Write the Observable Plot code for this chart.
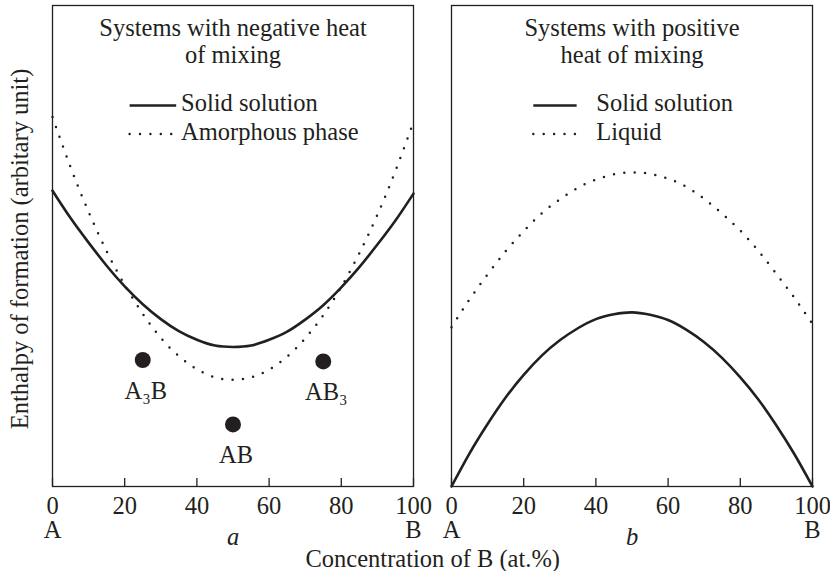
<!DOCTYPE html>
<html>
<head>
<meta charset="utf-8">
<script src="https://cdn.jsdelivr.net/npm/d3@7"></script>
<script src="https://cdn.jsdelivr.net/npm/@observablehq/plot@0.6"></script>
<style>
  body { margin: 0; background: #fff; }
</style>
</head>
<body>
<div id="chart"></div>
<script>
// Panels: (a) negative heat of mixing, (b) positive heat of mixing
const panels = ["a", "b"];
const panelTitles = ["Systems with negative heat\nof mixing", "Systems with positive\nheat of mixing"];

// Concentration of B (at.%) at which the curves are sampled
const concentration = [0, 5, 10, 15, 20, 25, 30, 35, 40, 45, 50, 55, 60, 65, 70, 75, 80, 85, 90, 95, 100];

// Enthalpy of formation (arbitrary units), panel a
const negSolid     = [61.5, 55.8, 50.7, 45.9, 41.6, 37.9, 34.8, 32.3, 30.5, 29.3, 29.0, 29.3, 30.5, 32.2, 34.7, 37.7, 41.4, 45.6, 50.3, 55.3, 60.9];
const negAmorphous = [76.8, 66.4, 57.1, 48.9, 41.9, 35.9, 30.9, 27.1, 24.4, 22.7, 22.2, 22.7, 24.3, 27.0, 30.8, 35.6, 41.5, 48.5, 56.5, 65.6, 75.8];

// Enthalpy of formation (arbitrary units), panel b
const posSolid  = [0, 6.9, 13.0, 18.5, 23.2, 27.2, 30.4, 32.9, 34.8, 35.8, 36.2, 35.7, 34.6, 32.6, 30.0, 26.7, 22.7, 18.1, 12.7, 6.7, 0];
const posLiquid = [33.1, 38.9, 44.1, 48.9, 53.1, 56.8, 59.7, 62.1, 63.8, 64.9, 65.3, 65.0, 64.0, 62.3, 59.8, 56.7, 53.2, 49.0, 44.2, 39.2, 33.8];

// Intermetallic compounds in panel a
const compounds = ["A₃B", "AB", "AB₃"];
const compoundX = [25, 50, 75];
const compoundY = [26.3, 12.9, 26.0];

// Axis ticks and end-member labels
const xTicks = [0, 20, 40, 60, 80, 100];
const endMembers = ["A", "B"];
const endMemberX = [0, 100];

// Legend entries per panel
const legendSolid = ["Solid solution", "Solid solution"];
const legendDotted = ["Amorphous phase", "Liquid"];

const xLabel = "Concentration of B (at.%)";
const yLabel = "Enthalpy of formation (arbitary unit)";

// ---- layout ----
const W = 830, H = 571;
const M = {top: 5, right: 18, bottom: 85, left: 51.5};
const plotH = H - M.top - M.bottom;
const ink = "#231f20";
const fs = 24.5;
// legend placement (in x/y data units of each panel)
const legendPlace = {
  a: {x1: 21.5, x2: 34.4, xd2: 33.4, tx: 35.6, y1: 79.2, y2: 73.3},
  b: {x1: 22.8, x2: 34.8, xd2: 34.4, tx: 40.1, y1: 79.2, y2: 73.3}
};

// ---- tables ----
const curves = [];
concentration.forEach((c, i) => {
  curves.push({panel: "a", kind: "solid", x: c, y: negSolid[i]});
  curves.push({panel: "a", kind: "dotted", x: c, y: negAmorphous[i]});
  curves.push({panel: "b", kind: "solid", x: c, y: posSolid[i]});
  curves.push({panel: "b", kind: "dotted", x: c, y: posLiquid[i]});
});
const solidRows = curves.filter(d => d.kind === "solid");
const dottedRows = curves.filter(d => d.kind === "dotted");

const compoundRows = compounds.map((name, i) => ({panel: "a", name, x: compoundX[i], y: compoundY[i]}));
const endRows = endMembers.map((t, i) => ({label: t, x: endMemberX[i]}));
const titleRows = panels.map((p, i) => ({panel: p, text: panelTitles[i]}));
const legendRows = panels.flatMap((p, i) => {
  const L = legendPlace[p];
  return [
    {panel: p, kind: "solid", text: legendSolid[i], x1: L.x1, x2: L.x2, tx: L.tx, y: L.y1},
    {panel: p, kind: "dotted", text: legendDotted[i], x1: L.x1, x2: L.xd2, tx: L.tx, y: L.y2}
  ];
});

const dotted = {strokeWidth: 2.5, strokeDasharray: "0,10.4", strokeLinecap: "round"};

const chart = Plot.plot({
  width: W,
  height: H,
  marginTop: M.top,
  marginRight: M.right,
  marginBottom: M.bottom,
  marginLeft: M.left,
  style: {fontFamily: "'Liberation Serif', 'Times New Roman', serif", fontSize: fs + "px", color: ink, background: "#fff", overflow: "visible"},
  fx: {domain: panels, paddingInner: 0.0963, paddingOuter: 0, axis: null, label: null},
  x: {domain: [0, 100], label: null},
  y: {domain: [0, 100], axis: null, label: null},
  marks: [
    Plot.frame({stroke: ink, strokeWidth: 1.3}),
    // inward ticks along the bottom edge
    Plot.tickX(xTicks, {x: d => d, insetTop: plotH - 8, stroke: ink, strokeWidth: 1.3}),
    Plot.axisX(xTicks, {tickSize: 0, tickPadding: 9.6, fontSize: fs, fill: ink, label: null}),
    // end members under 0 and 100
    Plot.text(endRows, {x: "x", text: "label", frameAnchor: "bottom", lineAnchor: "middle", dy: 43.9, fontSize: fs, fill: ink}),
    // panel letters
    Plot.text(panels, {fx: d => d, text: d => d, frameAnchor: "bottom", lineAnchor: "middle", dy: 50.2, fontSize: fs, fontStyle: "italic", fill: ink}),
    // panel titles
    Plot.text(titleRows, {fx: "panel", text: "text", frameAnchor: "top", lineAnchor: "top", dy: 11, lineHeight: 1.1, fontSize: fs, fill: ink}),
    // curves
    Plot.line(solidRows, {fx: "panel", x: "x", y: "y", curve: "natural", stroke: ink, strokeWidth: 2.6}),
    Plot.line(dottedRows, {fx: "panel", x: "x", y: "y", curve: "natural", stroke: ink, ...dotted}),
    // compounds
    Plot.dot(compoundRows, {fx: "panel", x: "x", y: "y", r: 8, fill: ink, stroke: null}),
    Plot.text(compoundRows, {fx: "panel", x: "x", y: "y", text: "name", dy: 31, dx: 3, fontSize: fs, fill: ink}),
    // legends
    Plot.ruleY(legendRows.filter(d => d.kind === "solid"), {fx: "panel", y: "y", x1: "x1", x2: "x2", stroke: ink, strokeWidth: 2.6}),
    Plot.ruleY(legendRows.filter(d => d.kind === "dotted"), {fx: "panel", y: "y", x1: "x1", x2: "x2", stroke: ink, ...dotted}),
    Plot.text(legendRows, {fx: "panel", x: "tx", y: "y", text: "text", textAnchor: "start", dy: -2, fontSize: fs, fill: ink}),
    // axis titles
    Plot.text([yLabel], {fx: () => "a", text: d => d, frameAnchor: "left", textAnchor: "middle", lineAnchor: "middle", rotate: -90, dx: -32.5, dy: 3, fontSize: fs, fill: ink}),
    Plot.text([xLabel], {fx: () => "a", text: d => d, frameAnchor: "bottom-right", textAnchor: "middle", lineAnchor: "middle", dx: 19.25, dy: 72.2, fontSize: fs, fill: ink})
  ]
});

document.getElementById("chart").append(chart);
</script>
</body>
</html>
